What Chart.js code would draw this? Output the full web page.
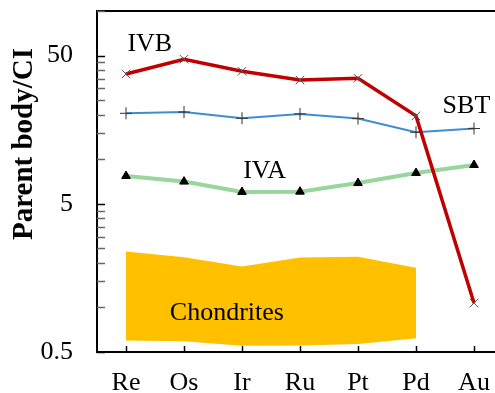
<!DOCTYPE html>
<html>
<head>
<meta charset="utf-8">
<script src="https://cdn.jsdelivr.net/npm/chart.js@4/dist/chart.umd.min.js"></script>
<style>
  html, body { margin: 0; padding: 0; background: #fff; overflow: hidden; width: 495px; height: 393px; }
  #wrap { width: 510px; height: 393px; }
</style>
</head>
<body>
<div id="wrap"><canvas id="chart" width="510" height="393"></canvas></div>
<script>
// Data
const elements = ['Re', 'Os', 'Ir', 'Ru', 'Pt', 'Pd', 'Au'];
const ivb = [37.6, 47.3, 39.2, 34.2, 35.2, 19.6, 1.07];
const sbt = [20.4, 20.8, 18.9, 20.2, 18.8, 15.2, 16.1];
const iva = [7.7, 7.06, 6.01, 6.04, 6.9, 8.07, 9.14];
const chondriteTop = [2.38, 2.18, 1.89, 2.17, 2.2, 1.85, null];
const chondriteBottom = [0.597, 0.59, 0.55, 0.553, 0.567, 0.62, null];
const yTicks = [0.5, 1, 1.5, 2, 2.5, 3, 3.5, 4, 4.5, 5, 10, 15, 20, 25, 30, 35, 40, 45, 50, 100];
const yLabels = [0.5, 5, 50];

// Text labels placed in data space: [text, category index, value]
const notes = [
  ['IVB', 0.41, 60],
  ['SBT', 5.87, 22.8],
  ['IVA', 2.39, 8.26],
  ['Chondrites', 1.74, 0.918]
];
const yTitle = 'Parent body/CI';

const serif = '"Liberation Serif", "Times New Roman", serif';

// inward tick marks, annotations and the axis title
const extrasPlugin = {
  id: 'extras',
  afterDraw(chart) {
    const c = chart.ctx;
    const xs = chart.scales.x;
    const ys = chart.scales.y;
    const area = chart.chartArea;
    c.save();
    c.lineWidth = 1.5;
    yTicks.forEach(v => {
      const y = Math.round(ys.getPixelForValue(v)) + 0.5;
      c.strokeStyle = yLabels.includes(v) ? '#000' : '#666';
      c.beginPath();
      c.moveTo(area.left, y);
      c.lineTo(area.left + 8, y);
      c.stroke();
    });
    c.strokeStyle = '#000';
    elements.forEach((e, i) => {
      const x = Math.round(xs.getPixelForValue(i)) + 0.5;
      c.beginPath();
      c.moveTo(x, area.bottom);
      c.lineTo(x, area.bottom - 6);
      c.stroke();
    });

    c.fillStyle = '#000';
    c.font = '26px ' + serif;
    c.textAlign = 'center';
    c.textBaseline = 'middle';
    notes.forEach(n => {
      c.fillText(n[0], xs.getPixelForValue(n[1]), ys.getPixelForValue(n[2]));
    });

    c.translate(25, 144);
    c.rotate(-Math.PI / 2);
    c.font = 'bold 29px ' + serif;
    c.fillText(yTitle, 0, 0);
    c.restore();
  }
};

const ctx = document.getElementById('chart').getContext('2d');
const chart = new Chart(ctx, {
  type: 'line',
  data: {
    labels: elements,
    datasets: [
      {
        label: 'IVB',
        data: ivb,
        borderColor: '#C00000',
        borderWidth: 3.5,
        pointStyle: 'crossRot',
        pointRadius: 6,
        pointBorderColor: '#555',
        pointBorderWidth: 1,
        order: 1
      },
      {
        label: 'SBT',
        data: sbt,
        borderColor: '#3B8ED4',
        borderWidth: 2,
        pointStyle: 'cross',
        pointRadius: 6,
        pointBorderColor: '#333',
        pointBorderWidth: 1,
        order: 2
      },
      {
        label: 'IVA',
        data: iva,
        borderColor: '#98D69C',
        borderWidth: 4,
        pointStyle: 'triangle',
        pointRadius: 5,
        pointBackgroundColor: '#000',
        pointBorderColor: '#000',
        pointBorderWidth: 1,
        order: 3
      },
      {
        label: 'Chondrites top',
        data: chondriteTop,
        borderWidth: 0,
        pointRadius: 0,
        backgroundColor: '#FFC000',
        fill: '+1',
        order: 4
      },
      {
        label: 'Chondrites bottom',
        data: chondriteBottom,
        borderWidth: 0,
        pointRadius: 0,
        fill: false,
        order: 5
      }
    ]
  },
  options: {
    responsive: false,
    animation: false,
    layout: { padding: { top: 11, right: 3, left: 0, bottom: 0 } },
    plugins: { legend: { display: false }, tooltip: { enabled: false } },
    scales: {
      x: {
        type: 'category',
        offset: true,
        grid: { drawOnChartArea: false, drawTicks: false, offset: false },
        border: { display: true, color: '#000', width: 2 },
        ticks: { color: '#000', font: { family: serif, size: 26 }, padding: 16, maxRotation: 0, autoSkip: false },
        afterFit(scale) {
          scale.height = 41;
          scale.paddingLeft = 0;
          scale.paddingRight = 0;
        }
      },
      x2: {
        type: 'category',
        position: 'top',
        grid: { drawOnChartArea: false, drawTicks: false },
        border: { display: true, color: '#000', width: 2 },
        ticks: { display: false },
        afterFit(scale) {
          scale.height = 0;
          scale.paddingLeft = 0;
          scale.paddingRight = 0;
        }
      },
      y: {
        type: 'logarithmic',
        min: 0.5,
        max: 100,
        afterBuildTicks(scale) {
          scale.ticks = yTicks.map(v => ({ value: v, major: yLabels.includes(v) }));
        },
        grid: { drawOnChartArea: false, drawTicks: false },
        border: { display: true, color: '#000', width: 2 },
        ticks: {
          color: '#000',
          font: { family: serif, size: 26 },
          padding: 24,
          autoSkip: false,
          callback: v => yLabels.includes(v) ? String(v) : ''
        },
        afterFit(scale) {
          scale.width = 97;
          scale.paddingTop = 0;
          scale.paddingBottom = 0;
        }
      }
    }
  },
  plugins: [extrasPlugin]
});
</script>
</body>
</html>
